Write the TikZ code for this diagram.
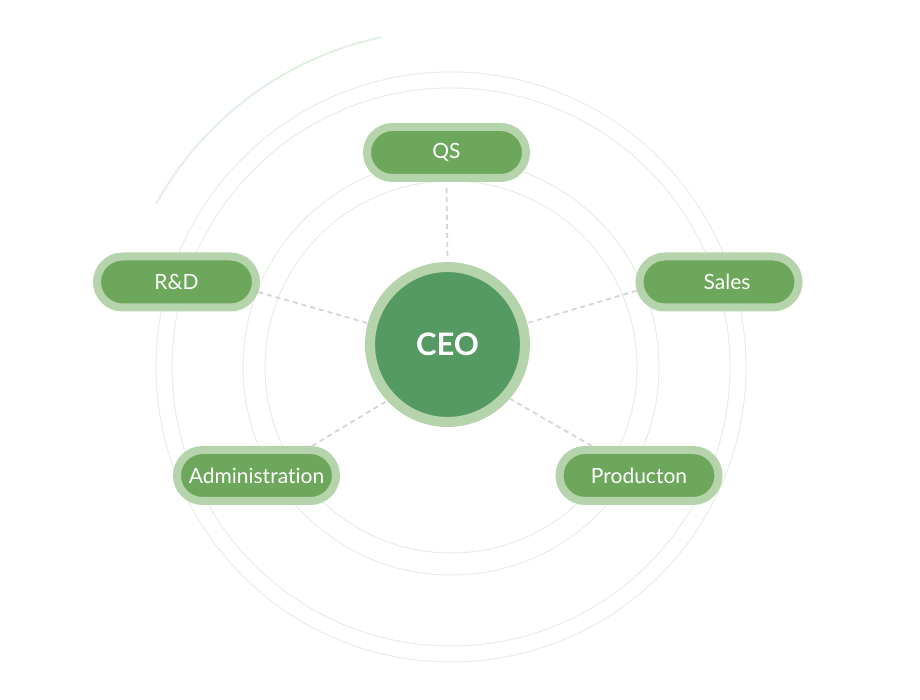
\documentclass[tikz,border=0pt]{standalone}
\usepackage{fontspec}
\setmainfont{Lato}[Ligatures={NoCommon}]
\usetikzlibrary{shapes.misc}
\definecolor{ringc}{HTML}{B6D4AC}
\definecolor{pillc}{HTML}{6DA75B}
\definecolor{ceoc}{HTML}{569A63}
\definecolor{orbitc}{HTML}{E4EFE4}
\definecolor{arcc}{HTML}{E3F0E3}
\definecolor{dashc}{HTML}{D5D5D5}
\tikzset{
  pill/.style={rounded rectangle, draw=ringc, fill=pillc, line width=8pt,
    minimum width=159pt, minimum height=51pt, inner sep=0pt,
    text=white, font=\fontsize{21}{24}\selectfont},
  ceonode/.style={circle, draw=ringc, fill=ceoc, line width=10pt,
    minimum size=155pt, inner sep=0pt, text=white,
    font=\fontsize{31}{36}\selectfont\bfseries},
  orbit/.style={draw=orbitc, line width=1pt},
  conn/.style={draw=dashc, line width=1.8pt, dash pattern=on 5pt off 4pt}
}
\begin{document}
\begin{tikzpicture}[x=1pt,y=1pt]
\useasboundingbox (0,0) rectangle (920,700);
\coordinate (oc) at (451,333);
\draw[orbit] (oc) circle[radius=295];
\draw[orbit] (oc) circle[radius=279];
\draw[orbit] (oc) circle[radius=208];
\draw[orbit] (oc) circle[radius=186];
\draw[draw=arcc, line width=2pt] (oc) ++(102:337) arc[start angle=102, end angle=151, radius=337];

\node[ceonode] (ceo) at (447.5,355.5) {CEO};
\node[pill] (qs) at (446.5,547.5) {\raisebox{-1pt}{QS}};
\node[pill] (rd) at (176.5,418) {\raisebox{-1pt}{R\&D}};
\node[pill] (sales) at (719,418) {\hspace*{16pt}\raisebox{-1pt}{Sales}};
\node[pill] (adm) at (256.5,224.5) {\raisebox{-1pt}{Administration}};
\node[pill] (prod) at (639,224.5) {\raisebox{-1pt}{Producton}};

\draw[conn, shorten <=6pt, shorten >=4pt] (qs.south) -- (ceo.north);
\draw[conn] (rd.-7) -- (ceo.165);
\draw[conn] (sales.186) -- (ceo.15);
\draw[conn] (adm.28) -- (ceo.223);
\draw[conn] (prod.148) -- (ceo.319);
\end{tikzpicture}
\end{document}
